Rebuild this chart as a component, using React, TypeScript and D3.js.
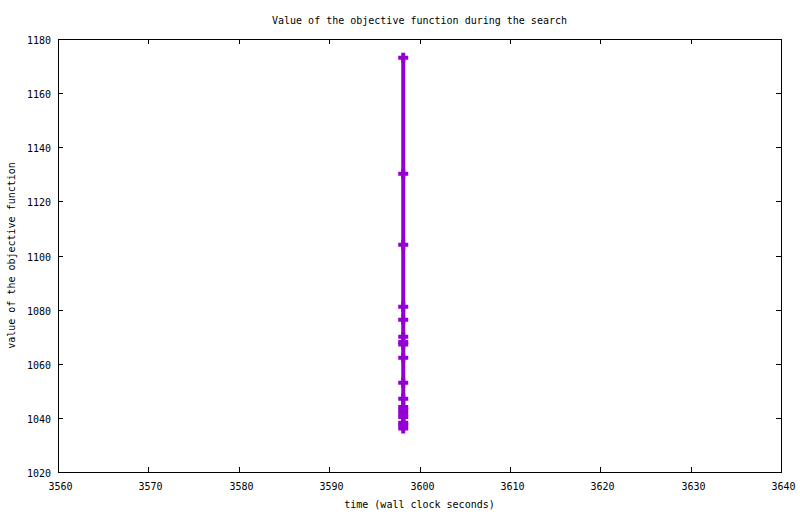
import { useEffect, useRef } from 'react'
import * as d3 from 'd3'

// wall-clock time of each improvement (all at the same instant)
const times = [
  3598.2, 3598.2, 3598.2, 3598.2, 3598.2, 3598.2, 3598.2, 3598.2, 3598.2,
  3598.2, 3598.2, 3598.2, 3598.2, 3598.2, 3598.2, 3598.2, 3598.2, 3598.2,
]
const values = [
  1173.1, 1130.2, 1104.0, 1081.1, 1076.3, 1070.0, 1068.0, 1067.1, 1062.2,
  1053.0, 1047.1, 1044.0, 1042.9, 1041.6, 1040.3, 1038.2, 1037.4, 1036.1,
]
const xTicks = [3560, 3570, 3580, 3590, 3600, 3610, 3620, 3630, 3640]
const yTicks = [1020, 1040, 1060, 1080, 1100, 1120, 1140, 1160, 1180]

const title = 'Value of the objective function during the search'
const xLabel = 'time (wall clock seconds)'
const yLabel = 'value of the objective function'

export default function App() {
  const svgRef = useRef<SVGSVGElement>(null)
  const width = 800
  const height = 514

  useEffect(() => {
    document.body.style.margin = '0'
    if (!svgRef.current) return
    const svg = d3.select(svgRef.current)
    svg.selectAll('*').remove()

    const left = 58, right = 781, top = 39, bottom = 472
    const font = '"DejaVu Sans Mono", "Liberation Mono", monospace'
    const color = '#9400d3'

    const x = d3.scaleLinear().domain([3560, 3640]).range([left, right])
    const y = d3.scaleLinear().domain([1020, 1180]).range([bottom, top])

    svg.append('rect')
      .attr('width', width).attr('height', height).attr('fill', '#fff')

    const g = svg.append('g').attr('shape-rendering', 'crispEdges')

    // frame
    g.append('rect')
      .attr('x', left + 0.5).attr('y', top + 0.5)
      .attr('width', right - left).attr('height', bottom - top)
      .attr('fill', 'none').attr('stroke', '#000').attr('stroke-width', 1)

    // ticks, mirrored on all four sides, pointing inwards
    const tl = 5
    yTicks.forEach(v => {
      const yy = Math.round(y(v)) + 0.5
      g.append('line').attr('x1', left).attr('x2', left + tl).attr('y1', yy).attr('y2', yy).attr('stroke', '#000')
      g.append('line').attr('x1', right - tl).attr('x2', right).attr('y1', yy).attr('y2', yy).attr('stroke', '#000')
      svg.append('text')
        .attr('x', left - 7).attr('y', yy + 4)
        .attr('text-anchor', 'end')
        .style('font-family', font).style('font-size', '10px')
        .text(v)
    })
    xTicks.forEach(v => {
      const xx = Math.round(x(v)) + 0.5
      g.append('line').attr('x1', xx).attr('x2', xx).attr('y1', bottom - tl).attr('y2', bottom).attr('stroke', '#000')
      g.append('line').attr('x1', xx).attr('x2', xx).attr('y1', top).attr('y2', top + tl).attr('stroke', '#000')
      svg.append('text')
        .attr('x', xx + 2).attr('y', 490)
        .attr('text-anchor', 'middle')
        .style('font-family', font).style('font-size', '10px')
        .text(v)
    })

    // series
    const pts = times.map((t, i) => [t, values[i]] as [number, number])
    const line = d3.line<[number, number]>().x(d => x(d[0])).y(d => y(d[1]))
    svg.append('path')
      .attr('d', line(pts))
      .attr('fill', 'none').attr('stroke', color).attr('stroke-width', 4)

    svg.selectAll('.pt')
      .data(pts)
      .enter()
      .append('path')
      .attr('class', 'pt')
      .attr('transform', d => `translate(${x(d[0])},${y(d[1])})`)
      .attr('d', 'M-5,0H5M0,-5V5')
      .attr('fill', 'none').attr('stroke', color).attr('stroke-width', 4)

    // labels
    svg.append('text')
      .attr('x', (left + right) / 2).attr('y', 24)
      .attr('text-anchor', 'middle')
      .style('font-family', font).style('font-size', '10px')
      .text(title)

    svg.append('text')
      .attr('x', (left + right) / 2).attr('y', 508)
      .attr('text-anchor', 'middle')
      .style('font-family', font).style('font-size', '10px')
      .text(xLabel)

    svg.append('text')
      .attr('transform', `translate(15, ${(top + bottom) / 2}) rotate(-90)`)
      .attr('text-anchor', 'middle')
      .style('font-family', font).style('font-size', '10px')
      .text(yLabel)
  }, [])

  return <svg ref={svgRef} width={width} height={height} style={{ display: 'block' }} />
}
